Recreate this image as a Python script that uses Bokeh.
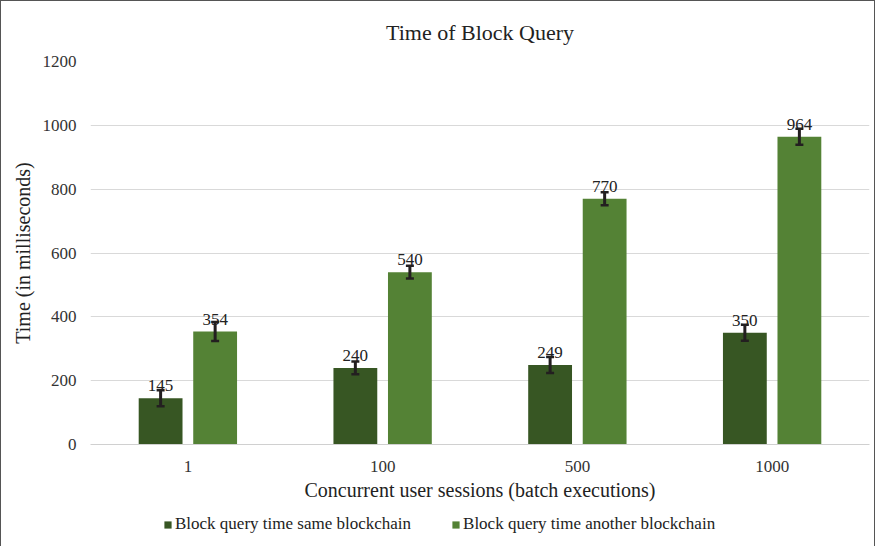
from bokeh.plotting import figure
from bokeh.layouts import column
from bokeh.models import ColumnDataSource, FactorRange, Range1d, Legend, LegendItem, LabelSet
from bokeh.transform import dodge
from bokeh.embed import file_html
from bokeh.resources import INLINE

categories = ["1", "100", "500", "1000"]
same_chain = [145, 240, 249, 350]
another_chain = [354, 540, 770, 964]
same_err = [25, 20, 25, 25]
another_err = [30, 20, 20, 25]
y_ticks = [0, 200, 400, 600, 800, 1000, 1200]
series_names = ["Block query time same blockchain", "Block query time another blockchain"]

FONT = "Liberation Serif"
DARK = "#375623"
LIGHT = "#548235"
ERR = "#231f20"

src = ColumnDataSource(dict(
    cat=categories,
    same=same_chain,
    another=another_chain,
    same_lo=[v - e for v, e in zip(same_chain, same_err)],
    same_hi=[v + e for v, e in zip(same_chain, same_err)],
    another_lo=[v - e for v, e in zip(another_chain, another_err)],
    another_hi=[v + e for v, e in zip(another_chain, another_err)],
    same_lbl=[str(v) for v in same_chain],
    another_lbl=[str(v) for v in another_chain],
))

p = figure(x_range=FactorRange(*categories), y_range=Range1d(0, 1200),
           frame_width=779, frame_height=383, output_backend="svg", toolbar_location=None,
           min_border_left=89, min_border_right=5, min_border_top=56, min_border_bottom=62)

p.title.text = "Time of Block Query"
p.title.text_font = FONT
p.title.text_font_size = "22px"
p.title.text_font_style = "normal"
p.title.text_color = "#222222"
p.title.align = "center"
p.title.standoff = 33

p.vbar(x=dodge("cat", -0.14, range=p.x_range), top="same", width=0.225, source=src,
       fill_color=DARK, line_color=None)
p.vbar(x=dodge("cat", 0.14, range=p.x_range), top="another", width=0.225, source=src,
       fill_color=LIGHT, line_color=None)

for base, lo, hi in [(-0.14, "same_lo", "same_hi"), (0.14, "another_lo", "another_hi")]:
    xb = dodge("cat", base, range=p.x_range)
    p.segment(x0=xb, x1=xb, y0=lo, y1=hi, source=src, line_color=ERR, line_width=3)
    p.scatter(x=xb, y=lo, source=src, marker="dash", size=8, line_color=ERR, line_width=2.5)
    p.scatter(x=xb, y=hi, source=src, marker="dash", size=8, line_color=ERR, line_width=2.5)

for base, col, lbl in [(-0.14, "same", "same_lbl"), (0.14, "another", "another_lbl")]:
    ls = LabelSet(x=dodge("cat", base, range=p.x_range), y=col, text=lbl, source=src,
                  text_align="center", text_baseline="bottom", y_offset=7,
                  text_font=FONT, text_font_size="17px", text_color="#222222")
    p.add_layout(ls)

p.xgrid.grid_line_color = None
p.ygrid.grid_line_color = "#d9d9d9"
p.ygrid.ticker = y_ticks
p.yaxis.ticker = y_ticks
p.outline_line_color = None

for ax in (p.xaxis, p.yaxis):
    ax.major_tick_line_color = None
    ax.minor_tick_line_color = None
    ax.major_label_text_font = FONT
    ax.major_label_text_font_size = "17px"
    ax.major_label_text_color = "#333333"
    ax.axis_label_text_font = FONT
    ax.axis_label_text_font_size = "20px"
    ax.axis_label_text_font_style = "normal"
    ax.axis_label_text_color = "#222222"

p.yaxis.axis_line_color = None
p.yaxis.major_label_standoff = 8
p.yaxis.axis_label = "Time (in milliseconds)"
p.yaxis.axis_label_standoff = 6
p.xaxis.axis_line_color = "#d0d0d0"
p.xaxis.major_label_standoff = 10
p.xaxis.axis_label = "Concurrent user sessions (batch executions)"
p.xaxis.axis_label_standoff = 4

# legend strip below the chart (swatch renderers sit outside the visible range)
lg = figure(width=873, height=42, x_range=Range1d(0, 1), y_range=Range1d(0, 1),
            output_backend="svg", toolbar_location=None,
            min_border=0, min_border_left=0, min_border_right=0, min_border_top=0, min_border_bottom=0)
lg.axis.visible = False
lg.grid.visible = False
lg.outline_line_color = None
d1 = lg.vbar(x="x", top="top", width=0.1, source=ColumnDataSource(dict(x=[-5], top=[-5])),
             fill_color=DARK, line_color=None)
d2 = lg.vbar(x="x", top="top", width=0.1, source=ColumnDataSource(dict(x=[-5], top=[-5])),
             fill_color=LIGHT, line_color=None)
legend = Legend(items=[LegendItem(label=series_names[0], renderers=[d1]),
                       LegendItem(label=series_names[1], renderers=[d2])],
                orientation="horizontal", location=(73, 14),
                label_text_font=FONT, label_text_font_size="17px", label_text_color="#222222",
                glyph_width=9, glyph_height=9, spacing=40, label_standoff=3,
                border_line_color=None, background_fill_alpha=0, margin=0, padding=3)
lg.add_layout(legend)

layout = column(p, lg, spacing=0, styles={"border": "1px solid #555555"})

open("out.html", "w").write(file_html(layout, INLINE))
